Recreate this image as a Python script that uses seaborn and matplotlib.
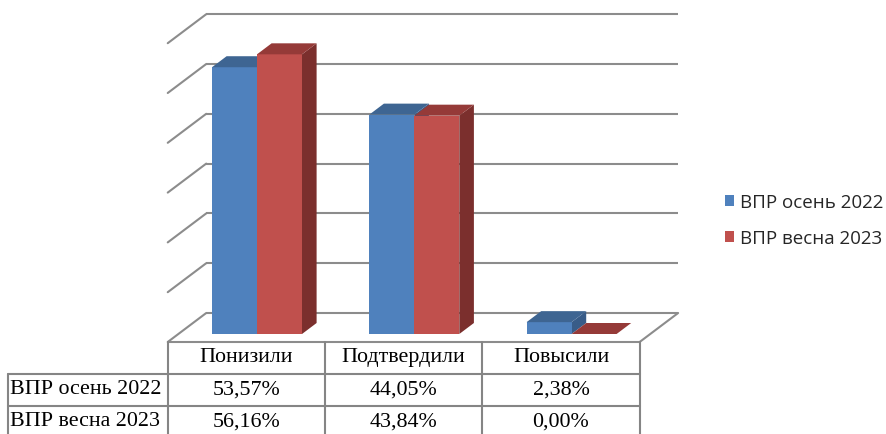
import numpy as np
import pandas as pd
import matplotlib
matplotlib.use('Agg')
import matplotlib.pyplot as plt
import seaborn as sns
from matplotlib.patches import Polygon, Patch, Rectangle

# ---------------- data ----------------
categories = ['Понизили', 'Подтвердили', 'Повысили']
series = ['ВПР осень 2022', 'ВПР весна 2023']
autumn_2022 = [53.57, 44.05, 2.38]
spring_2023 = [56.16, 43.84, 0.00]
y_ticks = [0, 10, 20, 30, 40, 50, 60]

# ---------------- style ----------------
colors_front = ['#4F81BD', '#C0504D']
colors_top = ['#3E6592', '#953A38']
colors_side = ['#385C88', '#7B2F2D']
grid_color = '#8C8C8C'
table_color = '#858585'

W, H, DPI = 886, 435, 100
X0_PX, PX_PER_CAT = 257.0, 157.3      # pixel of category 0 centre (bar front plane), px per category
Y0_PX, PX_PER_PCT = 335.0, 4.98       # pixel (from top) of 0 %, px per percent
FLOOR_DX_PX, FLOOR_DY_PX = 38.5, 29.0 # oblique offset of full floor depth
F_FRONT = 8 / 29                       # bar front plane depth from the floor front
F_BAR = 11 / 29                        # bar depth

sns.set_theme(style='white')
plt.rcParams['font.family'] = ['DejaVu Sans']

fig = plt.figure(figsize=(W / DPI, H / DPI), dpi=DPI)
ax = fig.add_axes([0, 0, 1, 1])

df = pd.DataFrame({
    'Категория': categories * 2,
    'Серия': [series[0]] * len(categories) + [series[1]] * len(categories),
    'Значение': autumn_2022 + spring_2023,
})
sns.barplot(data=df, x='Категория', y='Значение', hue='Серия', palette=colors_front,
            width=2 * 45 / PX_PER_CAT, saturation=1, ax=ax, legend=False,
            linewidth=0, errorbar=None)
bars = [p for p in ax.patches if isinstance(p, Rectangle)]

ax.set_xlim(-X0_PX / PX_PER_CAT, (W - X0_PX) / PX_PER_CAT)
ax.set_ylim((Y0_PX - H) / PX_PER_PCT, Y0_PX / PX_PER_PCT)
ax.axis('off')

DX = FLOOR_DX_PX / PX_PER_CAT
DY = FLOOR_DY_PX / PX_PER_PCT


def py(p):
    """pixel row (from top) -> data y"""
    return (Y0_PX - p) / PX_PER_PCT


def px(p):
    return (p - X0_PX) / PX_PER_CAT


d_front = -F_FRONT
d_back = 1 - F_FRONT
n = len(categories)
xl, xr = -0.5, n - 0.5
lw = 1.5

# back wall + left wall gridlines
for t in y_ticks:
    ax.plot([xl + d_back * DX, xr + d_back * DX], [t + d_back * DY, t + d_back * DY],
            color=grid_color, lw=lw, zorder=1, solid_capstyle='butt')
    ax.plot([xl + d_front * DX, xl + d_back * DX], [t + d_front * DY, t + d_back * DY],
            color=grid_color, lw=lw, zorder=1)
# floor front and right edges
ax.plot([xl + d_front * DX, xr + d_front * DX], [d_front * DY, d_front * DY],
        color=grid_color, lw=lw, zorder=1)
ax.plot([xr + d_front * DX, xr + d_back * DX], [d_front * DY, d_back * DY],
        color=grid_color, lw=lw, zorder=1)

# 3D bars
bdx, bdy = F_BAR * DX, F_BAR * DY
info = []
for i, b in enumerate(bars):
    s = 0 if i < n else 1
    info.append((b.get_x(), s, b))
info.sort(key=lambda z: z[0])
for k, (_, s, b) in enumerate(info):
    x0 = b.get_x()
    x1 = x0 + b.get_width()
    h = b.get_height()
    base = 3 + k * 0.1
    b.set_zorder(base + 0.02)
    side = Polygon([(x1, 0), (x1 + bdx, bdy), (x1 + bdx, h + bdy), (x1, h)],
                   closed=True, facecolor=colors_side[s], edgecolor='none', zorder=base)
    top = Polygon([(x0, h), (x1, h), (x1 + bdx, h + bdy), (x0 + bdx, h + bdy)],
                  closed=True, facecolor=colors_top[s], edgecolor='none', zorder=base + 0.04)
    ax.add_patch(side)
    ax.add_patch(top)

# data table
y_top = d_front * DY
y_r1 = py(375)
y_r2 = py(407)
y_bot = py(H + 5)
x_tab_left = px(8)
col_x = [k - 0.5 + d_front * DX for k in range(n + 1)]
for cx in col_x:
    ax.plot([cx, cx], [y_top, y_bot], color=table_color, lw=1.5, zorder=1, clip_on=False)
ax.plot([x_tab_left, x_tab_left], [y_r1, y_bot], color=table_color, lw=1.5, zorder=1)
for yy in (y_r1, y_r2):
    ax.plot([x_tab_left, col_x[-1]], [yy, yy], color=table_color, lw=1.5, zorder=1)

serif = ['Liberation Serif', 'DejaVu Serif']
fs = 15.8
y_head = py(358)
for k, c in enumerate(categories):
    ax.text(k + d_front * DX, y_head, c, ha='center', va='center', fontsize=fs,
            family=serif, color='black')
rows = [autumn_2022, spring_2023]
row_y = [py(390), py(422)]
for r, (name, vals) in enumerate(zip(series, rows)):
    ax.text(px(10), row_y[r], name, ha='left', va='center', fontsize=fs,
            family=serif, color='black')
    for k, v in enumerate(vals):
        ax.text(k + d_front * DX, row_y[r], f'{v:.2f}%'.replace('.', ','),
                ha='center', va='center', fontsize=fs, family=serif, color='black')

# legend
handles = [Patch(facecolor=c, edgecolor='none') for c in colors_front]
fig.legend(handles=handles, labels=series, loc='center left',
           bbox_to_anchor=(725 / W, 1 - 221 / H), frameon=False,
           prop={'family': ['Open Sans', 'DejaVu Sans'], 'size': 13.5},
           handlelength=0.5, handleheight=0.5, handletextpad=0.3,
           labelspacing=0.95, borderaxespad=0, borderpad=0)

fig.savefig('out.png', dpi=DPI)
